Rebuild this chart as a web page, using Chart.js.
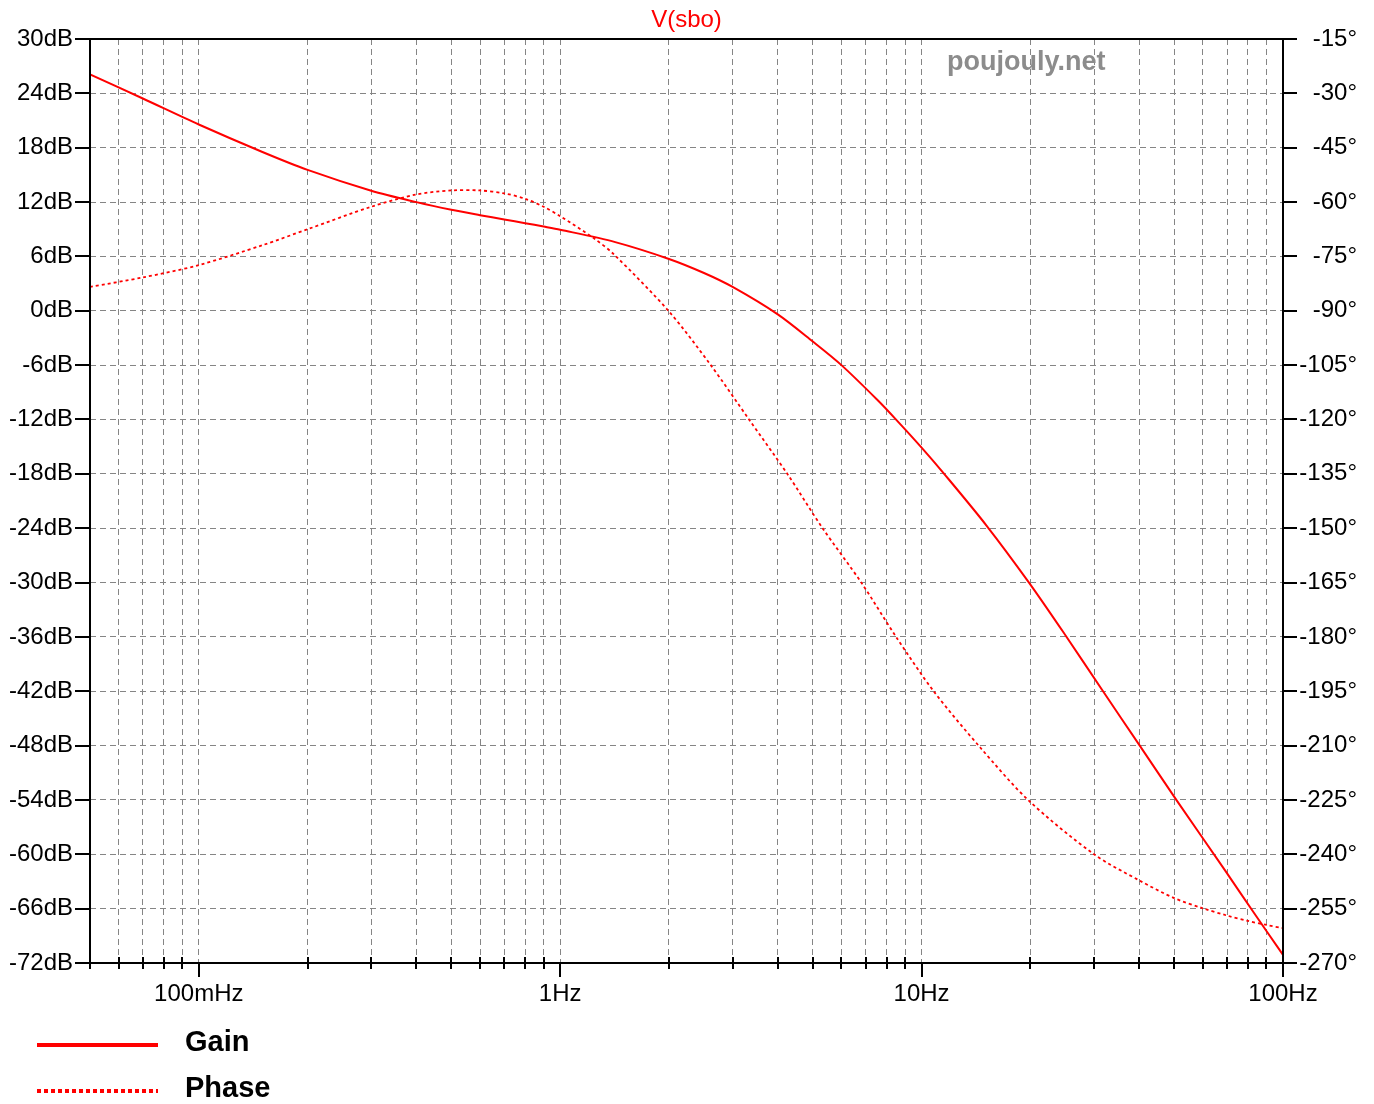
<!DOCTYPE html>
<html><head><meta charset="utf-8">
<script src="https://cdn.jsdelivr.net/npm/chart.js@4"></script>
<style>html,body{margin:0;padding:0;background:#fff;}#wrap{width:1374px;height:1104px;}</style>
</head><body><div id="wrap"><canvas id="c" width="1374" height="1104"></canvas></div>
<script>
// ---- data ----
const gainFreq = [0.05, 0.07, 0.1, 0.15, 0.2, 0.3, 0.4, 0.5, 0.6, 0.7, 0.8, 0.9, 1.0, 1.42, 2, 2.5, 3, 4, 5, 6, 7.55, 8.45, 10, 11.5, 15.1, 19.8, 25, 31.6, 40.1, 50.9, 69.2, 81.9, 100];
const gainDb   = [26.1, 23.43, 20.56, 17.53, 15.55, 13.25, 11.99, 11.14, 10.55, 10.08, 9.67, 9.3, 8.95, 7.58, 5.72, 4.17, 2.63, -0.4, -3.4, -6.0, -9.85, -11.9, -15.1, -17.92, -23.68, -29.98, -35.82, -41.87, -47.98, -54.1, -61.8, -66.1, -71.1];
const phaseFreq = [0.05, 0.07, 0.1, 0.15, 0.2, 0.3, 0.4, 0.5, 0.6, 0.7, 0.8, 0.9, 1.0, 1.24, 1.41, 2, 2.61, 3.33, 4.25, 5.32, 6.81, 8.5, 10.8, 14.55, 19.8, 30, 40, 50, 60, 70, 80, 90, 100];
const phaseDeg  = [-83.4, -80.8, -77.4, -71.9, -67.5, -61.3, -57.9, -56.8, -56.8, -57.6, -59.1, -61.3, -63.9, -70.0, -74.5, -90.2, -105, -120, -135, -150, -165, -180, -195, -210.6, -225.2, -240.0, -247.2, -252.1, -254.9, -256.9, -258.4, -259.5, -260.4];
const xTickValues = [0.05,0.06,0.07,0.08,0.09,0.1,0.2,0.3,0.4,0.5,0.6,0.7,0.8,0.9,1,2,3,4,5,6,7,8,9,10,20,30,40,50,60,70,80,90,100];
const xTickLabels = ['','','','','','100mHz','','','','','','','','','1Hz','','','','','','','','','10Hz','','','','','','','','','100Hz'];
const dbMin = -72, dbMax = 30, dbStep = 6;
const phMin = -270, phMax = -15, phStep = 15;
const titleText = 'V(sbo)';
const watermark = 'poujouly.net';
const seriesNames = ['Gain', 'Phase'];

Chart.defaults.font.family = "'Liberation Sans', Arial, sans-serif";
const RED = '#ff0000';
const GRID = '#858585';
const FONT = {family: "'Liberation Sans', Arial, sans-serif", size: 24};

const decor = {
  id: 'decor',
  afterDraw(chart) {
    const ctx = chart.ctx, a = chart.chartArea;
    const xs = chart.scales.x, yl = chart.scales.y, yr = chart.scales.y2;
    ctx.save();
    ctx.strokeStyle = '#000'; ctx.lineWidth = 2; ctx.setLineDash([]);
    ctx.strokeRect(a.left, a.top, a.right - a.left, a.bottom - a.top);
    ctx.beginPath();
    yl.ticks.forEach(t => { const y = Math.round(yl.getPixelForValue(t.value)); ctx.moveTo(a.left - 15, y); ctx.lineTo(a.left, y); });
    yr.ticks.forEach(t => { const y = Math.round(yr.getPixelForValue(t.value)); ctx.moveTo(a.right, y); ctx.lineTo(a.right + 14, y); });
    xs.ticks.forEach((t, i) => {
      const x = Math.round(xs.getPixelForValue(t.value));
      if (xTickLabels[i]) { ctx.moveTo(x, a.bottom); ctx.lineTo(x, a.bottom + 14); }
      else { ctx.moveTo(x, a.bottom - 6); ctx.lineTo(x, a.bottom + 6); }
    });
    ctx.stroke();
    // title
    ctx.fillStyle = RED; ctx.font = "24px 'Liberation Sans', Arial, sans-serif";
    ctx.textAlign = 'center'; ctx.textBaseline = 'middle';
    ctx.fillText(titleText, (a.left + a.right) / 2, 20);
    // watermark
    ctx.fillStyle = '#8c8c8c'; ctx.font = "bold 27px 'Liberation Sans', Arial, sans-serif";
    ctx.textAlign = 'left';
    ctx.fillText(watermark, 947, 63);
    // legend
    ctx.strokeStyle = RED; ctx.lineWidth = 4;
    ctx.beginPath(); ctx.moveTo(37, 1045); ctx.lineTo(158, 1045); ctx.stroke();
    ctx.setLineDash([4, 3]);
    ctx.beginPath(); ctx.moveTo(37, 1091); ctx.lineTo(158, 1091); ctx.stroke();
    ctx.setLineDash([]);
    ctx.fillStyle = '#000'; ctx.font = "bold 29px 'Liberation Sans', Arial, sans-serif";
    ctx.fillText(seriesNames[0], 185, 1043);
    ctx.fillText(seriesNames[1], 185, 1089);
    ctx.restore();
  }
};

new Chart(document.getElementById('c'), {
  type: 'line',
  data: {
    datasets: [
      { label: seriesNames[0], data: gainFreq.map((f, i) => ({x: f, y: gainDb[i]})), yAxisID: 'y',
        borderColor: RED, borderWidth: 2, pointRadius: 0, tension: 0.3, fill: false },
      { label: seriesNames[1], data: phaseFreq.map((f, i) => ({x: f, y: phaseDeg[i]})), yAxisID: 'y2',
        borderColor: RED, borderWidth: 1.8, borderDash: [3, 3], pointRadius: 0, tension: 0.3, fill: false }
    ]
  },
  options: {
    responsive: false, animation: false, devicePixelRatio: 1,
    layout: { padding: { top: 39, left: 0, right: 17, bottom: 0 } },
    plugins: { legend: { display: false }, title: { display: false }, tooltip: { enabled: false } },
    scales: {
      x: {
        type: 'logarithmic', position: 'bottom', min: 0.05, max: 100,
        afterFit: s => { s.height = 141; },
        afterBuildTicks: s => { s.ticks = xTickValues.map(v => ({ value: v })); },
        ticks: { autoSkip: false, maxRotation: 0, minRotation: 0, padding: 17, color: '#000', font: FONT,
                 callback: (v, i) => xTickLabels[i] },
        grid: { color: GRID, lineWidth: 1, drawTicks: false },
        border: { display: false, dash: [6, 4] }
      },
      y: {
        type: 'linear', position: 'left', min: dbMin, max: dbMax,
        afterFit: s => { s.width = 90; },
        ticks: { stepSize: dbStep, padding: 17, color: '#000', font: FONT, callback: v => v + 'dB' },
        grid: { color: GRID, lineWidth: 1, drawTicks: false },
        border: { display: false, dash: [6, 4] }
      },
      y2: {
        type: 'linear', position: 'right', min: phMin, max: phMax,
        afterFit: s => { s.width = 74; },
        ticks: { stepSize: phStep, padding: 17, color: '#000', font: FONT, crossAlign: 'far', callback: v => v + '°' },
        grid: { drawOnChartArea: false, drawTicks: false },
        border: { display: false }
      }
    }
  },
  plugins: [decor]
});
</script>
</body></html>
